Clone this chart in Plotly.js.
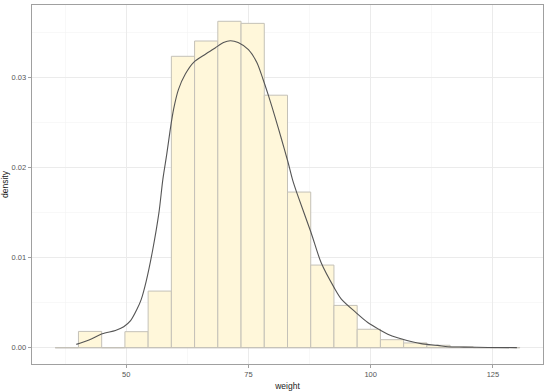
<!DOCTYPE html>
<html>
<head>
<meta charset="utf-8">
<script src="https://cdn.plot.ly/plotly-3.0.1.min.js"></script>
<style>
  html, body { margin: 0; padding: 0; background: #fff; }
  #chart { width: 550px; height: 391px; }
</style>
</head>
<body>
<div id="chart"></div>
<script>
// histogram bins (width ~4.75)
const binStart = 35.49;
const binWidth = 4.75;
const binDensity = [0, 0.00181, 0, 0.00178, 0.00629, 0.03237, 0.03407, 0.03626, 0.03603, 0.02805,
                    0.01729, 0.00918, 0.0047, 0.00205, 0.00089, 0.00053, 0.00027, 0.00009, 0, 0.00002];

// kernel density curve
const densX = [39.8, 42.4, 45.1, 47.8, 49.5, 50.9, 52.2, 53.1, 54.1, 55.4, 56.7, 57.5, 58.3, 59.0, 59.7,
               60.7, 62.1, 63.8, 66.2, 68.2, 69.9, 71.3, 72.9, 75.0, 76.7, 78.0, 79.1, 80.4, 81.8, 83.1,
               84.0, 84.9, 87.8, 89.9, 92.5, 94.0, 97.0, 99.4, 101.8, 103.5, 105.5, 108.9, 110.3, 113.7,
               115.8, 119.1, 124.0, 129.9];
const densY = [0.00037, 0.00085, 0.00155, 0.00192, 0.00233, 0.0030, 0.00426, 0.0054, 0.0074, 0.0108,
               0.0150, 0.0187, 0.0215, 0.0242, 0.0265, 0.0287, 0.0304, 0.0317, 0.0326, 0.0333, 0.0339,
               0.0341, 0.0339, 0.0331, 0.0317, 0.0298, 0.0280, 0.0257, 0.0231, 0.0206, 0.0187, 0.0172,
               0.0128, 0.0094, 0.0067, 0.0054, 0.0039, 0.0028, 0.0020, 0.0015, 0.0011, 0.0006, 0.00045,
               0.00026, 0.00011, 0.00007, 0.00003, 0.00001];

const xTicks = [50, 75, 100, 125];
const yTicks = [0, 0.01, 0.02, 0.03];

const binCenters = binDensity.map((d, i) => binStart + binWidth * (i + 0.5));
const binEnd = binStart + binWidth * binDensity.length;

const bars = {
    type: 'bar',
    x: binCenters,
    y: binDensity,
    width: binWidth,
    marker: {color: '#fff7da', line: {color: '#c4c1b8', width: 1}},
    hoverinfo: 'skip'
};

// flat outline of empty bins along zero
const baseline = {
    type: 'scatter',
    mode: 'lines',
    x: [binStart, binEnd],
    y: [0, 0],
    line: {color: '#c4c1b8', width: 1},
    hoverinfo: 'skip'
};

const curve = {
    type: 'scatter',
    mode: 'lines',
    x: densX,
    y: densY,
    line: {color: '#555555', width: 1.1, shape: 'spline', smoothing: 0.8},
    hoverinfo: 'skip'
};

const axisCommon = {
    showline: true,
    mirror: true,
    linecolor: '#a0a0a0',
    linewidth: 1.4,
    ticks: 'outside',
    ticklen: 3,
    tickwidth: 1,
    tickcolor: '#a0a0a0',
    gridcolor: '#ebebeb',
    gridwidth: 1,
    zeroline: false,
    tickfont: {family: 'Liberation Sans, Arial, sans-serif', size: 7.5, color: '#555555'}
};

const layout = {
    width: 550,
    height: 391,
    margin: {l: 32, r: 7, t: 5, b: 27},
    paper_bgcolor: '#ffffff',
    plot_bgcolor: '#ffffff',
    showlegend: false,
    bargap: 0,
    xaxis: Object.assign({}, axisCommon, {
        range: [30.74, 135.24],
        tickvals: xTicks,
        minor: {dtick: 12.5, tick0: 0, showgrid: true, gridcolor: '#f4f4f4', gridwidth: 0.6},
        title: {text: 'weight', standoff: 4,
                font: {family: 'Liberation Sans, Arial, sans-serif', size: 8.5, color: '#222222'}}
    }),
    yaxis: Object.assign({}, axisCommon, {
        range: [-0.00181, 0.03807],
        tickvals: yTicks,
        tickformat: '.2f',
        minor: {dtick: 0.005, tick0: 0, showgrid: true, gridcolor: '#f4f4f4', gridwidth: 0.6},
        title: {text: 'density', standoff: 4,
                font: {family: 'Liberation Sans, Arial, sans-serif', size: 8.5, color: '#222222'}}
    })
};

Plotly.newPlot('chart', [bars, baseline, curve], layout, {staticPlot: true, displayModeBar: false});
</script>
</body>
</html>
